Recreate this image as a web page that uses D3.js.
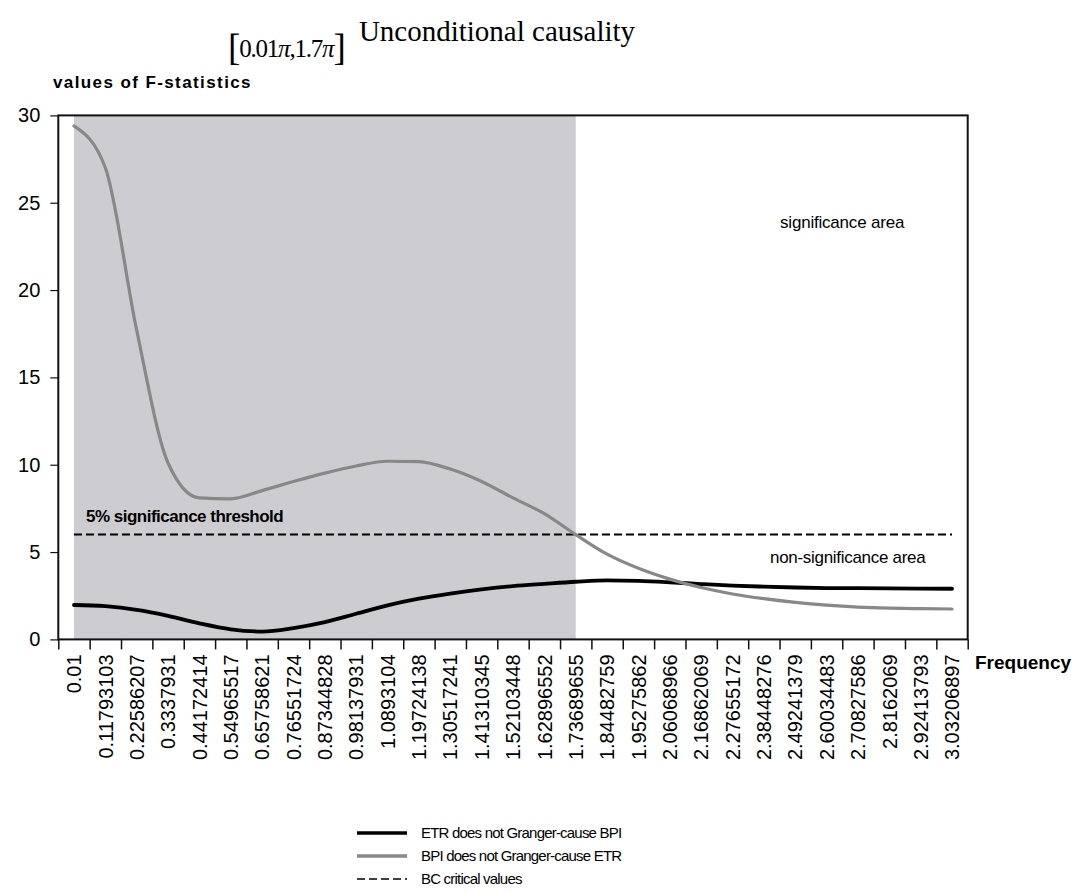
<!DOCTYPE html>
<html>
<head>
<meta charset="utf-8">
<script src="https://cdn.jsdelivr.net/npm/d3@7"></script>
<style>
  html, body { margin: 0; padding: 0; background: #fff; }
  svg { display: block; }
</style>
</head>
<body>
<svg id="chart" width="1080" height="893"></svg>
<script>
// ---------------- DATA ----------------
const freqLabels = ["0.01","0.11793103","0.22586207","0.3337931","0.44172414","0.54965517",
  "0.65758621","0.76551724","0.87344828","0.98137931","1.0893104","1.19724138","1.30517241",
  "1.41310345","1.52103448","1.62896552","1.73689655","1.84482759","1.95275862","2.06068966",
  "2.16862069","2.27655172","2.38448276","2.49241379","2.60034483","2.70827586","2.8162069",
  "2.92413793","3.03206897"];
// ETR does not Granger-cause BPI
const etrToBpi = [1.97,1.90,1.69,1.35,0.92,0.58,0.45,0.65,0.99,1.47,1.95,2.33,2.62,2.86,3.05,
  3.18,3.30,3.38,3.35,3.27,3.17,3.08,3.02,2.97,2.94,2.93,2.92,2.91,2.90];
// BPI does not Granger-cause ETR
const bpiToEtr = [29.4,27.0,17.7,10.1,8.1,8.05,8.52,9.04,9.52,9.93,10.2,10.18,9.75,9.04,8.1,
  7.2,6.0,4.88,4.07,3.45,2.97,2.6,2.33,2.12,1.96,1.85,1.79,1.76,1.74];
// BC critical values (5% significance threshold)
const bcCritical = [6,6,6,6,6,6,6,6,6,6,6,6,6,6,6,6,6,6,6,6,6,6,6,6,6,6,6,6,6];
const yTicks = [0,5,10,15,20,25,30];
const shadeFrom = "0.01", shadeTo = "1.73689655";
const legendItems = [
  {label: "ETR does not Granger-cause BPI", key: "etr"},
  {label: "BPI does not Granger-cause ETR", key: "bpi"},
  {label: "BC critical values", key: "bc"}
];

// ---------------- LAYOUT ----------------
const L = 58.3, R = 967.7, T = 115.4, B = 639.4;
const svg = d3.select("#chart");
const sans = "'Liberation Sans', Arial, Helvetica, sans-serif";
const serif = "'Liberation Serif', 'Times New Roman', serif";

const xBand = d3.scaleBand().domain(freqLabels).range([L, R]).padding(0);
const xc = d => xBand(d) + xBand.bandwidth() / 2;
const xEdge = d3.scaleLinear().domain([0, freqLabels.length]).range([L, R]);
const y = d3.scaleLinear().domain([0, 30]).range([B, T]);

const styles = {
  etr: {stroke: "#000", width: 3.8, dash: null},
  bpi: {stroke: "#888888", width: 3.2, dash: null},
  bc:  {stroke: "#000", width: 2, dash: "8,4"}
};

// shaded significance band
svg.append("rect")
  .attr("x", xc(shadeFrom)).attr("y", T)
  .attr("width", xc(shadeTo) - xc(shadeFrom)).attr("height", B - T)
  .attr("fill", "#cdccd0");

// lines
const line = d3.line().x((d, i) => xc(freqLabels[i])).y(d => y(d)).curve(d3.curveMonotoneX);
const seriesData = {etr: etrToBpi, bpi: bpiToEtr, bc: bcCritical};
["bc", "etr", "bpi"].forEach(k => {
  svg.append("path").datum(seriesData[k])
    .attr("d", line)
    .attr("fill", "none")
    .attr("stroke", styles[k].stroke)
    .attr("stroke-width", styles[k].width)
    .attr("stroke-dasharray", styles[k].dash)
    .attr("stroke-linejoin", "round")
    .attr("stroke-linecap", k === "bc" ? "butt" : "round");
});

// frame
svg.append("rect").attr("x", L).attr("y", T).attr("width", R - L).attr("height", B - T)
  .attr("fill", "none").attr("stroke", "#111").attr("stroke-width", 2);

// y axis
const yAxis = svg.append("g").attr("transform", `translate(${L},0)`)
  .call(d3.axisLeft(y).tickValues(yTicks).tickSize(8).tickPadding(10));
yAxis.select(".domain").remove();
yAxis.selectAll("line").attr("stroke", "#111").attr("stroke-width", 1.2);
yAxis.selectAll("text").attr("font-family", sans).attr("font-size", 20).attr("fill", "#000");

// x axis ticks at band edges
const xTickAxis = svg.append("g").attr("transform", `translate(0,${B})`)
  .call(d3.axisBottom(xEdge).tickValues(d3.range(freqLabels.length + 1)).tickSize(10).tickFormat(""));
xTickAxis.select(".domain").remove();
xTickAxis.selectAll("line").attr("stroke", "#111").attr("stroke-width", 1.5);

// x axis labels at band centres
const xLab = svg.append("g").attr("transform", `translate(0,${B})`)
  .call(d3.axisBottom(xBand).tickSize(0));
xLab.select(".domain").remove();
xLab.selectAll("text")
  .attr("font-family", sans).attr("font-size", 20).attr("fill", "#000")
  .attr("transform", "rotate(-90)")
  .attr("text-anchor", "end")
  .attr("x", -15).attr("y", 0).attr("dy", "0.36em");

// titles
svg.append("text").attr("x", 497).attr("y", 41).attr("text-anchor", "middle")
  .attr("font-family", serif).attr("font-size", 29).text("Unconditional causality");

const interval = svg.append("text").attr("x", 228).attr("y", 57)
  .attr("font-family", serif).attr("font-size", 25).attr("letter-spacing", -1.2);
interval.append("tspan").attr("font-size", 37).attr("dy", 3).text("[");
interval.append("tspan").attr("dy", -3).text("0.01");
interval.append("tspan").attr("font-style", "italic").text("π");
interval.append("tspan").text(",1.7");
interval.append("tspan").attr("font-style", "italic").text("π");
interval.append("tspan").attr("font-size", 37).attr("dy", 3).text("]");

svg.append("text").attr("x", 53).attr("y", 88)
  .attr("font-family", sans).attr("font-weight", "bold").attr("font-size", 17)
  .attr("letter-spacing", 1.4)
  .text("values of F-statistics");

svg.append("text").attr("x", 975).attr("y", 669)
  .attr("font-family", sans).attr("font-weight", "bold").attr("font-size", 19)
  .text("Frequency");

// annotations
svg.append("text").attr("x", 86).attr("y", 522)
  .attr("font-family", sans).attr("font-weight", "bold").attr("font-size", 17)
  .attr("letter-spacing", -0.5).text("5% significance threshold");
svg.append("text").attr("x", 780).attr("y", 228)
  .attr("font-family", sans).attr("font-size", 17)
  .attr("letter-spacing", -0.2).text("significance area");
svg.append("text").attr("x", 770).attr("y", 563)
  .attr("font-family", sans).attr("font-size", 17)
  .attr("letter-spacing", -0.3).text("non-significance area");

// legend
const lg = svg.append("g");
legendItems.forEach((it, i) => {
  const yy = 833 + i * 23;
  lg.append("line").attr("x1", 357).attr("x2", 407).attr("y1", yy).attr("y2", yy)
    .attr("stroke", styles[it.key].stroke)
    .attr("stroke-width", it.key === "bc" ? 1.6 : 3.6)
    .attr("stroke-dasharray", it.key === "bc" ? "8,4" : null);
  lg.append("text").attr("x", 421).attr("y", yy + 5)
    .attr("font-family", sans).attr("font-size", 15).attr("letter-spacing", -0.8)
    .text(it.label);
});
</script>
</body>
</html>
